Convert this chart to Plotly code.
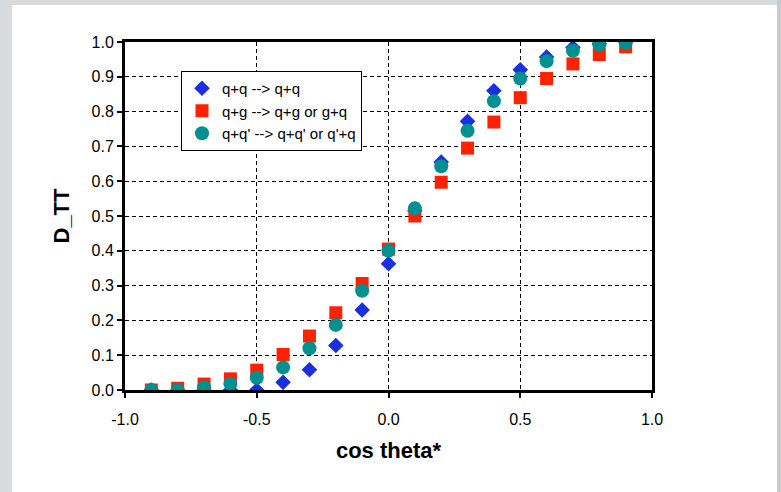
import plotly.graph_objects as go

cos_theta = [-0.9, -0.8, -0.7, -0.6, -0.5, -0.4, -0.3, -0.2, -0.1, 0.0,
             0.1, 0.2, 0.3, 0.4, 0.5, 0.6, 0.7, 0.8, 0.9]
qq_qq = [0.0, 0.0, 0.0, 0.0, 0.0, 0.022, 0.058, 0.128, 0.23, 0.363,
         0.515, 0.655, 0.772, 0.86, 0.92, 0.957, 0.984, 0.995, 1.0]
qg_qg = [0.0, 0.005, 0.017, 0.032, 0.057, 0.102, 0.155, 0.222, 0.306, 0.405,
         0.50, 0.597, 0.695, 0.77, 0.84, 0.895, 0.937, 0.964, 0.986]
qqp_qqp = [0.0, 0.0, 0.008, 0.018, 0.035, 0.065, 0.12, 0.187, 0.285, 0.40,
           0.522, 0.643, 0.745, 0.83, 0.895, 0.945, 0.975, 0.993, 0.998]

names = ["q+q --> q+q", "q+g --> q+g or g+q", "q+q' --> q+q' or q'+q"]

x_tick_vals = [-1.0, -0.5, 0.0, 0.5, 1.0]
x_tick_text = ["-1.0", "-0.5", "0.0", "0.5", "1.0"]

W, H = 781, 492
L, R, T, B = 125, 652, 42, 390

fig = go.Figure()
fig.add_trace(go.Scatter(x=cos_theta, y=qq_qq, mode="markers", name=names[0],
                         marker=dict(symbol="diamond", size=12, color="#1a30e0")))
fig.add_trace(go.Scatter(x=cos_theta, y=qg_qg, mode="markers", name=names[1],
                         marker=dict(symbol="square", size=13, color="#ff2200")))
fig.add_trace(go.Scatter(x=cos_theta, y=qqp_qqp, mode="markers", name=names[2],
                         marker=dict(symbol="circle", size=14, color="#009090")))

def px_x(p):
    return (p - L) / (R - L)

def px_y(p):
    return (B - p) / (B - T)

gray = "#d8dbde"
shapes = [
    dict(type="rect", xref="paper", yref="paper", x0=px_x(0), x1=px_x(12), y0=px_y(W), y1=px_y(0),
         fillcolor=gray, line_width=0, layer="below"),
    dict(type="rect", xref="paper", yref="paper", x0=px_x(0), x1=px_x(W), y0=px_y(5), y1=px_y(0),
         fillcolor=gray, line_width=0, layer="below"),
    dict(type="rect", xref="paper", yref="paper", x0=px_x(777), x1=px_x(W), y0=px_y(W), y1=px_y(0),
         fillcolor="#c8cbce", line_width=0, layer="below"),
]

font_family = "Liberation Sans, Arial, sans-serif"
axis_common = dict(
    showline=True, linewidth=3, linecolor="black", mirror=True,
    showgrid=True, gridcolor="black", gridwidth=1.3, griddash="4px,3px",
    zeroline=False, ticks="outside", ticklen=5, tickwidth=2, tickcolor="black",
    tickfont=dict(family=font_family, size=16, color="black"),
)

fig.update_layout(
    width=W, height=H,
    margin=dict(l=L, r=W - R, t=T, b=H - B),
    paper_bgcolor="white", plot_bgcolor="white",
    shapes=shapes,
    xaxis=dict(range=[-1, 1], tickmode="array", tickvals=x_tick_vals, ticktext=x_tick_text,
               ticklabelstandoff=8,
               title=dict(text="<b>cos theta*</b>", standoff=16,
                          font=dict(family=font_family, size=22, color="black")),
               **axis_common),
    yaxis=dict(range=[0, 1], dtick=0.1, tick0=0, tickformat=".1f",
               title=dict(text="<b>D_TT</b>", standoff=16,
                          font=dict(family=font_family, size=22, color="black")),
               **axis_common),
    legend=dict(x=px_x(181), y=px_y(71), xanchor="left", yanchor="top",
                bgcolor="white", bordercolor="black", borderwidth=1,
                font=dict(family=font_family, size=15, color="black"),
                itemwidth=30, tracegroupgap=0),
    showlegend=True,
)

fig.write_html("out.html")
